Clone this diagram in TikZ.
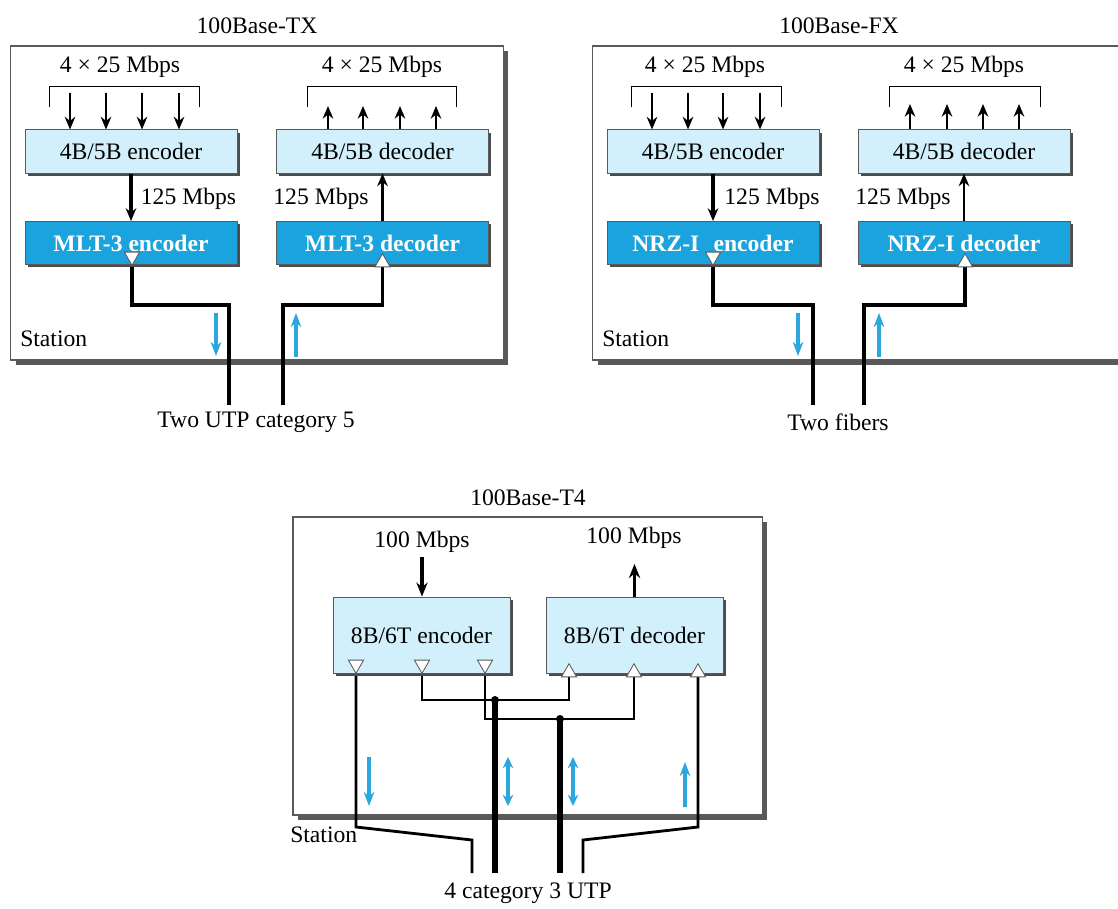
\documentclass[tikz,border=0pt]{standalone}
\usepackage{fontspec}
\setmainfont{Liberation Serif}
\usetikzlibrary{arrows.meta,shapes.geometric,shadows,calc}
\definecolor{lblue}{HTML}{D2F0FB}
\definecolor{dblue}{HTML}{1AA3DC}
\definecolor{ablue}{HTML}{2BA6DE}
\definecolor{edge}{HTML}{5A5A5A}
\pgfdeclarelayer{bg}
\pgfdeclarelayer{wire}
\pgfsetlayers{bg,wire,main}
\begin{document}
\begin{tikzpicture}[x=0.025cm,y=-0.025cm,
 every node/.style={font=\fontsize{16.8}{19}\selectfont, inner sep=0pt},
 station/.style={draw=edge, line width=0.8pt, fill=white, drop shadow={shadow xshift=3.5pt, shadow yshift=-3.5pt, fill=black!65, opacity=1}},
 lbox/.style={draw=edge, line width=0.6pt, fill=lblue, drop shadow={shadow xshift=2pt, shadow yshift=-2pt, fill=black!70, opacity=1}, minimum width=5.3cm, minimum height=1.08cm},
 dbox/.style={lbox, fill=dblue, text=white, font=\fontsize{16.8}{19}\selectfont\bfseries},
 tbox/.style={lbox, minimum width=4.425cm, minimum height=1.9cm},
 trid/.style={regular polygon, regular polygon sides=3, shape border rotate=180, draw=edge, fill=white, line width=0.6pt, minimum size=0.44cm},
 triu/.style={regular polygon, regular polygon sides=3, draw=edge, fill=white, line width=0.6pt, minimum size=0.44cm},
 bar/.style={-{Stealth[length=9pt,width=7.5pt]}, line width=1.5pt},
 bar2/.style={-{Stealth[length=9pt,width=7.5pt]}, line width=2.3pt},
 wire/.style={line width=2.6pt},
 wireb/.style={line width=2pt},
 wiret/.style={line width=0.9pt},
 wirek/.style={line width=3.6pt},
 bluearr/.style={draw=ablue, line width=2.2pt, -{Stealth[length=10pt,width=7.5pt]}},
 bluedbl/.style={draw=ablue, line width=2.6pt, {Stealth[length=8pt,width=7.5pt]}-{Stealth[length=8pt,width=7.5pt]}},
 brk/.style={line width=0.7pt},
 dot/.style={circle, fill=black, minimum size=0.2cm}
]
\clip (0,0) rectangle (1118,908);

% ---------- station boxes ----------
\begin{pgfonlayer}{bg}
\node[station, minimum width=12.3cm, minimum height=7.85cm] (stx) at (257,203) {};
\node[station, minimum width=13.675cm, minimum height=7.85cm] (sfx) at (866.5,203) {};
\node[station, minimum width=11.725cm, minimum height=7.45cm] (st4) at (527.5,666) {};
\end{pgfonlayer}

% ---------- titles and labels ----------
\node (ttx) at (257,26) {100Base-TX};
\node (tfx) at (839,26) {100Base-FX};
\node (tt4) at (528,498) {100Base-T4};
\node[anchor=west] (stlx) at (20,339) {Station};
\node[anchor=west] (stlf) at (602,339) {Station};
\node[anchor=west] (stl4) at (290,835) {Station};
\node (ctx) at (256,422) {Two UTP category 5};
\node (cfx) at (838,422) {Two fibers};
\node (ct4) at (528,893) {4 category 3 UTP};

% ---------- 100Base-TX ----------
\node[lbox] (e1) at (131,151.5) {4B/5B encoder};
\node[dbox] (m1) at (131,243) {MLT-3 encoder};
\node[lbox] (d1) at (382.5,151.5) {4B/5B decoder};
\node[dbox] (n1) at (382.5,243) {MLT-3 decoder};
\node[trid] (t1) at (132,256.5) {};
\node[triu] (t2) at (382.5,262.5) {};
\node (l1) at (120,67) {4 × 25 Mbps};
\node (l2) at (382,67) {4 × 25 Mbps};
\draw[brk] (49,107) -- (49,86) -- (199,86) -- (199,107);
\draw[brk] (307,107) -- (307,86) -- (456,86) -- (456,107);
\foreach \x in {70,106,142,179} \draw[bar] (\x,93) -- (\x,93 |- e1.north);
\foreach \x in {328,363,400,436} \draw[bar] (\x,93 |- d1.north) -- (\x,106);
\draw[bar2] (e1.south) -- (m1.north);
\draw[bar2] (n1.north) -- (d1.south);
\node (r1) at (188.5,199) {125 Mbps};
\node (r2) at (321,199) {125 Mbps};
\coordinate (w1) at (229,405);
\coordinate (w2) at (283,405);
\begin{pgfonlayer}{wire}
\draw[wire] (t1.center) -- ++(0,48.5) -| (w1);
\draw[wire] (t2.center) -- ++(0,42.5) -| (w2);
\end{pgfonlayer}
\draw[bluearr] (216,313) -- (216,356);
\draw[bluearr] (296,357) -- (296,313);

% ---------- 100Base-FX ----------
\node[lbox] (e2) at (713,151.5) {4B/5B encoder};
\node[dbox] (m2) at (713,243) {NRZ-I\hspace{0.6em}encoder};
\node[lbox] (d2) at (964,151.5) {4B/5B decoder};
\node[dbox] (n2) at (964,243) {NRZ-I decoder};
\node[trid] (t3) at (713,256.5) {};
\node[triu] (t4) at (965,262.5) {};
\node (l3) at (705,67) {4 × 25 Mbps};
\node (l4) at (964,67) {4 × 25 Mbps};
\draw[brk] (631,107) -- (631,86) -- (781,86) -- (781,107);
\draw[brk] (889,107) -- (889,86) -- (1040,86) -- (1040,107);
\foreach \x in {652,688,723,760} \draw[bar] (\x,93) -- (\x,93 |- e2.north);
\foreach \x in {910,947,983,1019} \draw[bar] (\x,93 |- d2.north) -- (\x,104);
\draw[bar2] (e2.south) -- (m2.north);
\draw[bar, line width=1.7pt] (n2.north) -- (d2.south);
\node (r3) at (772,199) {125 Mbps};
\node (r4) at (903,199) {125 Mbps};
\coordinate (w3) at (813,405);
\coordinate (w4) at (864,405);
\begin{pgfonlayer}{wire}
\draw[wire] (t3.center) -- ++(0,48.5) -| (w3);
\draw[wire] (t4.center) -- ++(0,42.5) -| (w4);
\end{pgfonlayer}
\draw[bluearr] (798,313) -- (798,356);
\draw[bluearr] (879,357) -- (879,313);

% ---------- 100Base-T4 ----------
\node[tbox] (e5) at (421.5,635) {8B/6T encoder};
\node[tbox] (d5) at (634.5,635) {8B/6T decoder};
\node (l5) at (422,542) {100 Mbps};
\node (l6) at (634,538) {100 Mbps};
\draw[-{Stealth[length=10pt,width=8pt]}, line width=2.8pt] (422,557) -- (422,557 |- e5.north);
\draw[-{Stealth[length=10pt,width=8pt]}, line width=2.8pt] (d5.north) -- (634.5,564);
\node[trid] (ta) at (356,664.5) {};
\node[trid] (tb) at (422,664.5) {};
\node[trid] (tc) at (485,664.5) {};
\node[triu] (td) at (569,672.5) {};
\node[triu] (te) at (634,672.5) {};
\node[triu] (tf) at (698,672.5) {};
\node[dot] (j1) at (495,700) {};
\node[dot] (j2) at (560,719) {};
\coordinate (f1) at (472,873);
\coordinate (f2) at (495,873);
\coordinate (f3) at (560,873);
\coordinate (f4) at (583,873);
\begin{pgfonlayer}{wire}
\draw[wireb] (ta.center) -- (356,827) -- (472,840) -- (f1);
\draw[wireb] (tf.center) -- (698,827) -- (583,840) -- (f4);
\draw[wiret] (tb.center) -- (422,700) -| (td.center);
\draw[wiret] (tc.center) -- (485,719) -| (te.center);
\draw[wirek] (j1.center) -- (f2);
\draw[wirek] (j2.center) -- (f3);
\end{pgfonlayer}
\draw[bluearr] (369,757) -- (369,806);
\draw[bluedbl] (508,757) -- (508,806);
\draw[bluedbl] (573,757) -- (573,806);
\draw[bluearr] (685,807) -- (685,762);
\end{tikzpicture}
\end{document}
